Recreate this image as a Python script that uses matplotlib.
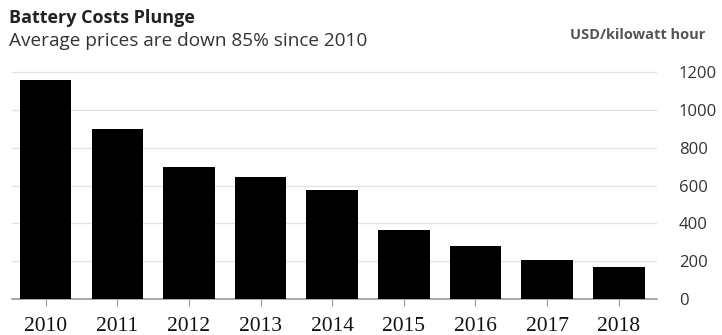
import matplotlib.pyplot as plt

# battery pack prices
years = ["2010", "2011", "2012", "2013", "2014", "2015", "2016", "2017", "2018"]
prices = [1160, 900, 700, 645, 577, 365, 280, 206, 170]
yticks = [0, 200, 400, 600, 800, 1000, 1200]

fig = plt.figure(figsize=(7.22, 3.35), dpi=100)
ax = fig.add_axes([0.0166, 0.1075, 0.893, 0.700])

x = list(range(len(years)))
ax.bar(x, prices, width=0.72, color="black", zorder=3)

ax.set_xlim(-0.47, 8.53)
ax.set_ylim(0, 1240)

# gridlines + y labels on the right
ax.set_yticks(yticks)
ax.set_yticklabels([str(v) for v in yticks], fontsize=12, color="#333333",
                   family="Open Sans")
ax.yaxis.tick_right()
ax.tick_params(axis="y", length=0, pad=16)
ax.grid(axis="y", color="#e2e2e2", linewidth=0.9, zorder=0)

ax.set_xticks(x)
ax.set_xticklabels(years, fontsize=15.5, family="Liberation Serif", color="#111111")
ax.tick_params(axis="x", length=5, color="#999999", pad=8)

for side in ["top", "right", "left"]:
    ax.spines[side].set_visible(False)
ax.spines["bottom"].set_color("#999999")
ax.spines["bottom"].set_linewidth(1.2)

fig.text(0.012, 0.945, "Battery Costs Plunge", fontsize=13, fontweight="bold",
         family="Open Sans", color="#222222", va="center")
fig.text(0.012, 0.878, "Average prices are down 85% since 2010", fontsize=13.7,
         family="Open Sans", color="#333333", va="center")
fig.text(0.977, 0.895, "USD/kilowatt hour", fontsize=10.5, fontweight="bold",
         family="Open Sans", color="#555555", va="center", ha="right")

fig.savefig("out.png", dpi=100)
